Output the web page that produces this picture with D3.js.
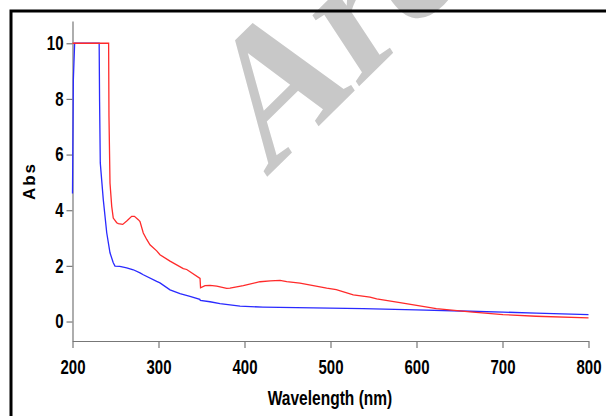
<!DOCTYPE html>
<html>
<head>
<meta charset="utf-8">
<script src="https://cdn.jsdelivr.net/npm/d3@7"></script>
<style>
  body { margin: 0; background: #fff; }
  svg { display: block; }
  .tick text { font-family: "Liberation Sans", Arial, sans-serif; font-weight: bold; font-size: 20px; fill: #000; }
  .axis-title { font-family: "Liberation Sans", Arial, sans-serif; font-weight: bold; fill: #000; }
</style>
</head>
<body>
<svg id="chart" width="606" height="416"></svg>
<script>
// wavelength (nm) / absorbance
const blueWave = [200, 201, 202.5, 231, 231.5, 232.3, 235.8, 239.8, 243.6, 247.4, 249.4, 255, 263, 270.7, 278.5, 282.3, 297.9, 301.7, 313.4, 325, 336.6, 348, 348.6, 359.9, 371.5, 394.8, 421.5, 479.7, 537.8, 599.4, 662.2, 700.6, 739, 800];
const blueAbs  = [4.6, 8.7, 10, 10, 7.9, 5.7, 4.38, 3.19, 2.47, 2.11, 1.99, 1.98, 1.93, 1.86, 1.75, 1.68, 1.44, 1.39, 1.14, 1.0, 0.90, 0.80, 0.76, 0.71, 0.64, 0.55, 0.52, 0.49, 0.46, 0.42, 0.37, 0.34, 0.30, 0.25];

const redWave = [200, 242, 242.4, 243.6, 245.6, 247.4, 251.4, 253.3, 258.4, 263.4, 268.8, 272, 276.5, 278.5, 282.3, 286.3, 290.1, 297.9, 301.7, 313.4, 328.8, 332.8, 348.3, 348.9, 354.1, 359.9, 367.7, 379.3, 383.1, 398.6, 418, 430, 441.3, 449.1, 464.5, 495.6, 506.7, 526.5, 545.9, 553.7, 580.8, 623, 662.2, 700.6, 739, 800];
const redAbs  = [10, 10, 7.4, 4.98, 4.14, 3.72, 3.55, 3.52, 3.49, 3.62, 3.78, 3.78, 3.66, 3.59, 3.18, 2.95, 2.76, 2.54, 2.40, 2.17, 1.90, 1.87, 1.55, 1.21, 1.29, 1.30, 1.27, 1.19, 1.20, 1.29, 1.43, 1.46, 1.48, 1.43, 1.38, 1.20, 1.15, 0.96, 0.88, 0.81, 0.68, 0.46, 0.35, 0.25, 0.19, 0.13];

const xTicks = [200, 300, 400, 500, 600, 700, 800];
const yTicks = [0, 2, 4, 6, 8, 10];

const narrow = 0.75; // the original uses a condensed face

const svg = d3.select("#chart");

const x = d3.scaleLinear().domain([200, 800]).range([72.5, 588.5]);
const y = d3.scaleLinear().domain([-0.7, 10.8]).range([341, 21]);

// watermark behind everything (rotated and sheared)
svg.append("text")
    .attr("transform", "matrix(1.2425,-1.225,1.017,1.546,266,178)")
    .attr("font-family", "Liberation Serif, Times New Roman, serif")
    .attr("font-weight", "bold")
    .attr("font-size", 100)
    .attr("fill", "#c8c8c8")
    .text("Arc");

// axes
const xAxis = svg.append("g")
    .attr("transform", `translate(0,${y.range()[0]})`)
    .call(d3.axisBottom(x).tickValues(xTicks).tickSize(7).tickPadding(12).tickSizeOuter(0));
const yAxis = svg.append("g")
    .attr("transform", `translate(${x.range()[0]},0)`)
    .call(d3.axisLeft(y).tickValues(yTicks).tickSize(6).tickPadding(3).tickSizeOuter(0));

[xAxis, yAxis].forEach(g => {
    g.select(".domain").attr("stroke", "#777").attr("stroke-width", 1.2);
    g.selectAll(".tick line").attr("stroke", "#777").attr("stroke-width", 1.2);
    g.selectAll(".tick text")
        .attr("x", function() { return +d3.select(this).attr("x") / narrow || 0; })
        .attr("transform", `scale(${narrow},1)`);
});

// curves
const line = d3.line().x(d => x(d[0])).y(d => y(d[1]));

svg.append("path")
    .datum(blueWave.map((w, i) => [w, blueAbs[i]]))
    .attr("d", line)
    .attr("fill", "none")
    .attr("stroke", "#2a2aff")
    .attr("stroke-width", 1.3);

svg.append("path")
    .datum(redWave.map((w, i) => [w, redAbs[i]]))
    .attr("d", line)
    .attr("fill", "none")
    .attr("stroke", "#ff2a2a")
    .attr("stroke-width", 1.3);

// axis titles
svg.append("text")
    .attr("class", "axis-title")
    .attr("transform", `translate(330,405) scale(0.74,1)`)
    .attr("text-anchor", "middle")
    .attr("font-size", 21)
    .text("Wavelength (nm)");

svg.append("text")
    .attr("class", "axis-title")
    .attr("transform", "translate(35,181) rotate(-90)")
    .attr("text-anchor", "middle")
    .attr("font-size", 17)
    .attr("letter-spacing", 2)
    .text("Abs");

// outer frame (cut by the page edge on the right and bottom)
svg.append("rect")
    .attr("x", 11)
    .attr("y", 11)
    .attr("width", 700)
    .attr("height", 500)
    .attr("fill", "none")
    .attr("stroke", "#000")
    .attr("stroke-width", 3);
</script>
</body>
</html>
